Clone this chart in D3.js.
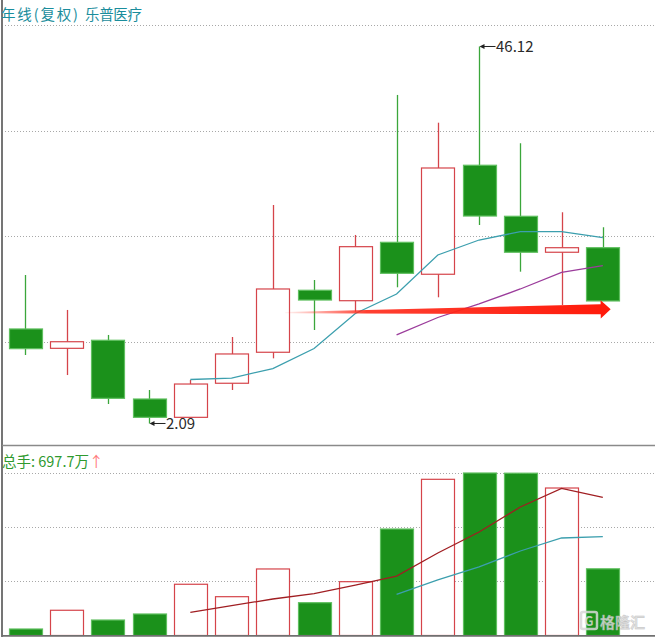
<!DOCTYPE html>
<html><head><meta charset="utf-8">
<script src="https://cdn.jsdelivr.net/npm/d3@7/dist/d3.min.js"></script>
<style>
html,body{margin:0;padding:0;background:#fff;}
svg{display:block;}
text{font-family:"Noto Sans CJK SC","Liberation Sans",sans-serif;}
</style></head>
<body>
<svg id="chart" width="655" height="637"></svg>
<script>
// ---- data (annual candles, forward-adjusted) ----
const years  = ["2009","2010","2011","2012","2013","2014","2015","2016","2017","2018","2019","2020","2021","2022","2023"];
const open   = [13.13,10.87,11.81,4.95,2.81,6.79,10.41,17.65,16.43,23.25,19.52,32.25,26.29,22.09,22.62];
const high   = [19.43,15.35,12.43,6.00,7.17,12.19,27.61,18.85,24.11,40.46,37.22,46.12,34.82,26.76,25.01];
const low    = [10.09,7.75,4.37,2.09,2.81,6.00,9.70,13.01,15.15,18.00,16.83,25.27,19.82,15.93,16.40];
const close  = [10.83,11.64,5.03,2.81,6.70,10.21,17.80,16.51,22.74,19.63,31.93,26.32,22.09,22.62,16.40];
const ma5    = [null,null,null,null,7.23,7.40,8.51,10.85,14.94,17.21,21.77,23.52,24.49,24.49,23.79];
const ma10   = [null,null,null,null,null,null,null,null,null,12.43,14.47,16.05,17.80,19.73,20.52];
const volume = [68,264,162,225,536,406,696,343,563,1114,1634,1700,1698,1543,697.7]; // 万手
const volMa5 = [null,null,null,null,243,312,382,439,528,622,863,1083,1344,1538,1444];
const volMa10= [null,null,null,null,null,null,null,null,null,431,581,717,884,1020,1034];
const titleParts = ["年线(复权)", "乐普医疗"];
const volLabel = "总手: 697.7万";
const highIdx = 11, lowIdx = 3;
// trend arrow, in (index, price) terms
const arrowFrom = {i: 6.30, v: 15.05};
const arrowTo   = {i: 14.19, v: 15.43};

// ---- layout ----
const W = 655, H = 637;
const priceTop = 25, priceBottom = 447;
const volTop = 473, volBottom = 635.5;

const svg = d3.select("#chart");

const x = d3.scaleBand().domain(years).range([4.7, 623.45]).paddingInner(0.2).paddingOuter(0.1);
const xc = i => x(years[i]) + x.bandwidth()/2;
const xi = d3.scaleLinear().domain([0, years.length-1]).range([xc(0), xc(years.length-1)]);
const y = d3.scaleLinear().domain([-0.655, 48.63]).range([priceBottom, priceTop]);
const yv = d3.scaleLinear().domain([0, 1700]).range([volBottom, volTop]);

const GREEN = "#1b911b", GREEN_EDGE = "#5fbf5f", RED = "#d5444a";

// ---- grid lines ----
const priceGrid = d3.range(4).map(k => y.domain()[1] - k*(y.domain()[1]-y.domain()[0])/4);
svg.append("g").selectAll("line").data(priceGrid).join("line")
  .attr("x1", 5).attr("x2", W)
  .attr("y1", d => Math.round(y(d))+0.5).attr("y2", d => Math.round(y(d))+0.5)
  .attr("stroke", "#a8a8a8").attr("stroke-width", 1).attr("stroke-dasharray", "1,2");
const volGrid = [1700, 1700*2/3, 1700/3];
svg.append("g").selectAll("line").data(volGrid).join("line")
  .attr("x1", 5).attr("x2", W)
  .attr("y1", d => Math.round(yv(d))+0.5).attr("y2", d => Math.round(yv(d))+0.5)
  .attr("stroke", "#a8a8a8").attr("stroke-width", 1).attr("stroke-dasharray", "1,2");

// ---- frame ----
svg.append("line").attr("x1", 2).attr("x2", 2).attr("y1", 0).attr("y2", H).attr("stroke", "#666").attr("stroke-width", 1.8);
svg.append("line").attr("x1", 2).attr("x2", W).attr("y1", 445.5).attr("y2", 445.5).attr("stroke", "#8a8a8a").attr("stroke-width", 1.5);

// ---- candles ----
const idx = d3.range(years.length);
const up = i => close[i] >= open[i];
const cg = svg.append("g");
cg.selectAll("line.wick").data(idx).join("line").attr("class","wick")
  .attr("x1", i => Math.round(xc(i))+0.5).attr("x2", i => Math.round(xc(i))+0.5)
  .attr("y1", i => y(high[i])).attr("y2", i => y(low[i]))
  .attr("stroke", i => up(i) ? RED : "#3ba63b").attr("stroke-width", 1.3);
cg.selectAll("rect.body").data(idx).join("rect").attr("class","body")
  .attr("x", i => Math.round(x(years[i]))+0.5)
  .attr("width", Math.round(x.bandwidth()))
  .attr("y", i => y(Math.max(open[i], close[i])))
  .attr("height", i => Math.max(1.5, Math.abs(y(open[i]) - y(close[i]))))
  .attr("fill", i => up(i) ? "#fff" : GREEN)
  .attr("stroke", i => up(i) ? RED : GREEN_EDGE)
  .attr("stroke-width", 1.2);

// ---- MA lines (price) ----
function drawLine(arr, scale, color, w) {
  const ln = d3.line().defined(d => d.v != null).x(d => xc(d.i)).y(d => scale(d.v));
  svg.append("path").datum(arr.map((v,i)=>({i,v})))
    .attr("d", ln).attr("fill","none").attr("stroke", color).attr("stroke-width", w);
}
drawLine(ma5, y, "#3c9fae", 1.3);
drawLine(ma10, y, "#9b3c9b", 1.3);

// ---- trend arrow ----
const defs = svg.append("defs");
const grad = defs.append("linearGradient").attr("id","arrowGrad").attr("x1","0%").attr("x2","100%");
grad.append("stop").attr("offset","0%").attr("stop-color","#ff2a1a").attr("stop-opacity",0.05);
grad.append("stop").attr("offset","25%").attr("stop-color","#ff2a1a").attr("stop-opacity",0.9);
grad.append("stop").attr("offset","100%").attr("stop-color","#ff1a0a").attr("stop-opacity",1);
{
  const x0 = xi(arrowFrom.i), y0 = y(arrowFrom.v);
  const x1 = xi(arrowTo.i), y1 = y(arrowTo.v);
  const headLen = 10, headHalf = 9.2, w0 = 0.6, w1 = 5;
  const ang = Math.atan2(y1-y0, x1-x0);
  const nx = -Math.sin(ang), ny = Math.cos(ang);
  const bx = x1 - headLen*Math.cos(ang), by = y1 - headLen*Math.sin(ang);
  const pts = [
    [x0 + nx*w0, y0 + ny*w0],
    [bx + nx*w1, by + ny*w1],
    [bx + nx*headHalf, by + ny*headHalf],
    [x1, y1],
    [bx - nx*headHalf, by - ny*headHalf],
    [bx - nx*w1, by - ny*w1],
    [x0 - nx*w0, y0 - ny*w0]
  ];
  svg.append("path").attr("d", "M" + pts.map(p=>p.join(",")).join("L") + "Z")
    .attr("fill", "url(#arrowGrad)");
}

// ---- high / low labels ----
function extremeLabel(i, v, txt) {
  const px = Math.round(xc(i))+0.5, py = y(v);
  const g = svg.append("g");
  g.append("line").attr("x1", px+2).attr("x2", px+16).attr("y1", py).attr("y2", py)
    .attr("stroke", "#222").attr("stroke-width", 1);
  g.append("path").attr("d", `M${px},${py}L${px+5},${py-2.5}L${px+5},${py+2.5}Z`).attr("fill","#222");
  g.append("text").attr("x", px+16.5).attr("y", py+5.3).attr("font-size", 15)
    .attr("font-family", "'Liberation Sans', Arial, sans-serif").attr("fill", "#2a2a2a").text(txt);
}
extremeLabel(highIdx, high[highIdx], d3.format(".2f")(high[highIdx]));
extremeLabel(lowIdx, low[lowIdx], d3.format(".2f")(low[lowIdx]));

// ---- volume bars ----
const vg = svg.append("g");
vg.selectAll("rect").data(idx).join("rect")
  .attr("x", i => Math.round(x(years[i]))+0.5)
  .attr("width", Math.round(x.bandwidth()))
  .attr("y", i => yv(volume[i]))
  .attr("height", i => volBottom - yv(volume[i]))
  .attr("fill", i => up(i) ? "#fff" : GREEN)
  .attr("stroke", i => up(i) ? RED : GREEN_EDGE)
  .attr("stroke-width", 1.2);
drawLine(volMa5, yv, "#a01e22", 1.3);
drawLine(volMa10, yv, "#3c9fae", 1.3);

// bottom border
svg.append("line").attr("x1", 2).attr("x2", W).attr("y1", 635.8).attr("y2", 635.8).attr("stroke", "#707070").attr("stroke-width", 1.8);

// ---- texts ----
const tt = svg.append("text").attr("y", 19.5).attr("font-size", 14.5).attr("fill", "#1a8d9c");
tt.append("tspan").attr("x", 1).attr("textLength", 77).attr("lengthAdjust", "spacing").text(titleParts[0]);
tt.append("tspan").attr("x", 85).attr("textLength", 57).attr("lengthAdjust", "spacing").text(titleParts[1]);
const vt = svg.append("text").attr("x", 2).attr("y", 466.5).attr("font-size", 14.5);
vt.append("tspan").attr("fill", "#2f9a2f").text(volLabel);
vt.append("tspan").attr("fill", "#ff7a7a").text("↑");

// ---- watermark ----
const wm = svg.append("g").attr("opacity", 0.85);
wm.append("rect").attr("x", 581).attr("y", 612).attr("width", 16).attr("height", 17).attr("rx", 2)
  .attr("fill", "none").attr("stroke", "#d8d8d8").attr("stroke-width", 2.5);
wm.append("text").attr("x", 589).attr("y", 626).attr("font-size", 13).attr("font-weight", "bold")
  .attr("text-anchor","middle").attr("fill", "#d8d8d8").text("G");
wm.append("text").attr("x", 600).attr("y", 627.5).attr("font-size", 15).attr("font-weight", "bold")
  .attr("fill", "#dcdcdc").attr("stroke", "#b8b8b8").attr("stroke-width", 0.4).text("格隆汇");
</script>
</body></html>
